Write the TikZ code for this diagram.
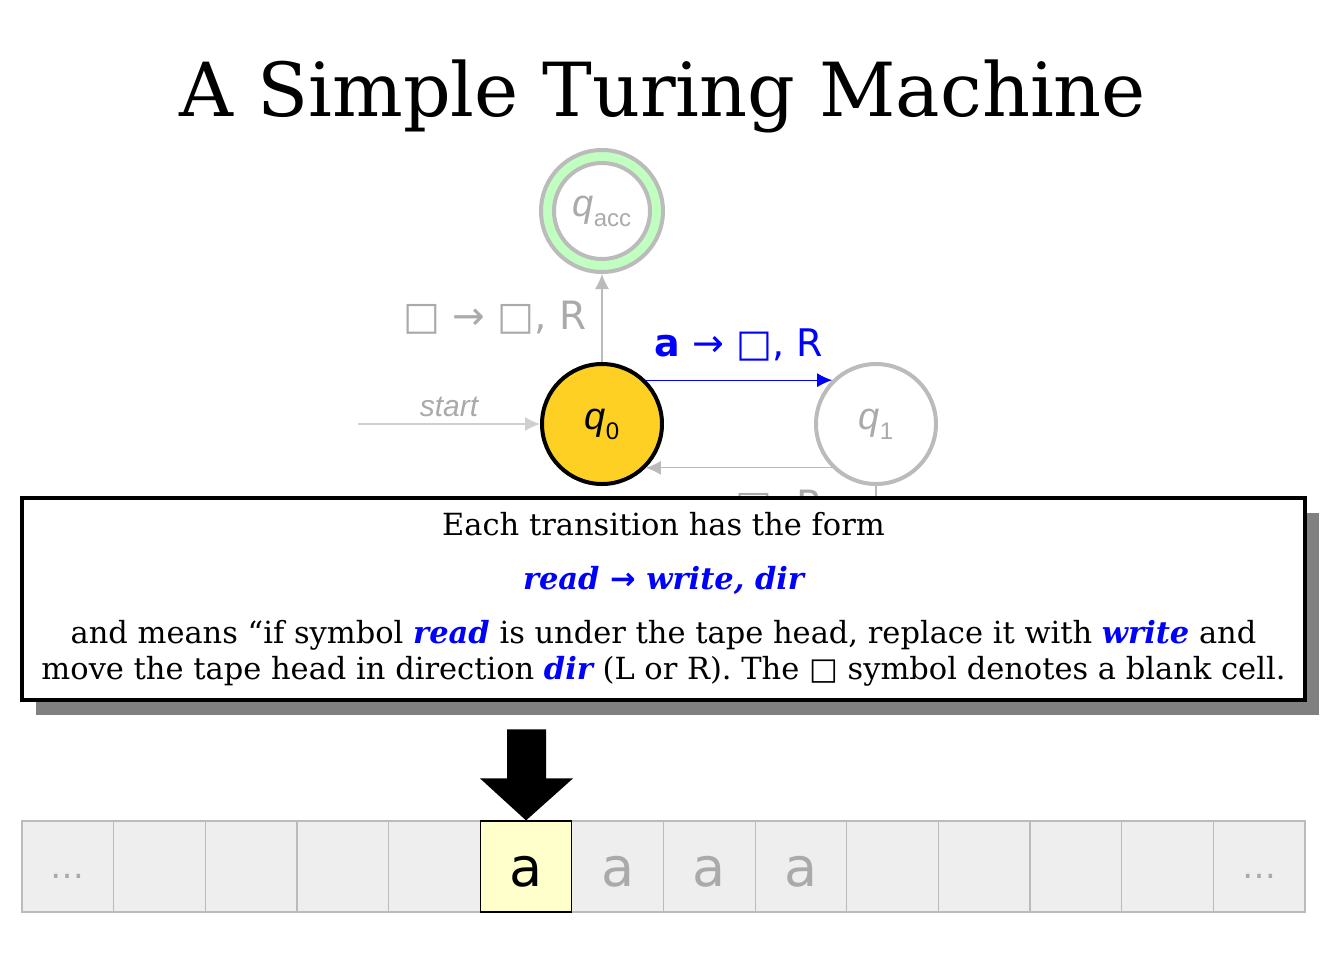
\documentclass[tikz,border=0pt]{standalone}
\usepackage{fontspec}
\setmainfont{DejaVu Serif}
\newfontfamily\labelfont{DejaVu Sans}
\newfontfamily\statefont{Liberation Sans}
\usetikzlibrary{arrows.meta,positioning,shadows}

\definecolor{stategold}{HTML}{FDD023}
\definecolor{accgreen}{HTML}{C0FFC0}
\definecolor{fadegray}{HTML}{BBBBBB}
\definecolor{fadetext}{HTML}{AAAAAA}
\definecolor{cellgray}{HTML}{EEEEEE}
\definecolor{headyellow}{HTML}{FFFFCC}
\newcommand{\blanksym}{{\labelfont □}}
\newcommand{\stname}[2]{\textit{#1}\raisebox{-0.5ex}{\fontsize{12}{12}\selectfont\upshape #2}}
\newcommand{\kw}[1]{\textcolor{blue}{\bfseries\itshape #1}}

\begin{document}
\begin{tikzpicture}[x=0.5pt, y=-0.5pt, >=Latex]
    \tikzset{state/.style={circle, draw=fadegray, line width=2pt, fill=white, inner sep=0pt, minimum size=60pt, text=fadetext, font=\statefont\fontsize{19}{19}\selectfont},
        edge/.style={->, draw=fadegray, line width=0.6pt, arrows={-Latex[length=7.5pt, width=7pt]}},
        elabel/.style={text=fadetext, font=\labelfont\fontsize{19.5}{19.5}\selectfont},
        cell/.style={rectangle, draw=fadegray, line width=0.6pt, fill=cellgray, minimum width=45.82pt, minimum height=45.5pt, inner sep=0pt, font=\labelfont\fontsize{27}{27}\selectfont, text=fadetext}}
    \useasboundingbox (0,0) rectangle (1332,954);

    \node[font=\fontsize{37.3}{37.3}\selectfont] (title) at (663,96) {A Simple Turing Machine};

    % states
    \node[state, fill=stategold, draw=black, text=black] (q0) at (602,424) {\stname{q}{0}};
    \node[state, above=44pt of q0, fill=accgreen, minimum size=61pt] (qacc) {};
    \node[state, minimum size=48pt] (qaccin) at (qacc) {\stname{q}{acc}};
    \node[state, right=75pt of q0] (q1) {\stname{q}{1}};
    \coordinate[left=91pt of q0] (startpt);
    \coordinate[below=10pt of q1] (q1down);

    \draw[edge, draw=fadegray!70] (startpt) -- node[above, text=fadetext, font=\statefont\itshape\fontsize{15}{15}\selectfont]{start} (q0);
    \draw[edge] (q0) -- node[elabel, left=4pt]{\blanksym{} → \blanksym, R} (qacc);
    \draw[edge] (q1.-135) -- node[elabel, inner sep=0pt, below=11pt]{a → \blanksym, R} (q0.-45);
    \draw[draw=fadegray, line width=0.6pt] (q1) -- (q1down);
    \draw[edge, draw=blue, arrows={-Latex[length=7.5pt, width=7pt, blue]}] (q0.45) -- node[above=6pt, text=blue, font=\labelfont\fontsize{19}{19}\selectfont]{\textbf{a} → \blanksym, R} (q1.135);

    % explanation
    \node[rectangle, draw=black, line width=2pt, fill=white, minimum width=641.5pt, minimum height=101pt, align=center,
        drop shadow={shadow xshift=7pt, shadow yshift=-7.5pt, fill=gray, opacity=1},
        font=\fontsize{15.25}{18}\selectfont] (info) at (663.5,599)
        {Each transition has the form\\[9pt]
         \kw{read {\labelfont→} write, dir}\\[9pt]
         and means “if symbol \kw{read} is under the tape head, replace it with \kw{write} and\\
         move the tape head in direction \kw{dir} (L or R). The \blanksym{} symbol denotes a blank cell.};

    % tape
    \foreach \i in {0,...,13}
        \node[cell] (c\i) at ({67.82+91.64*\i}, 866.5) {};
    \node[cell, fill=headyellow, draw=black] (tapehead) at (c5) {};
    \node[font=\labelfont\fontsize{27}{27}\selectfont] at ([yshift=-2.5pt]tapehead) {a};
    \foreach \i in {6,7,8}
        \node at ([yshift=-2.5pt]c\i) {\labelfont\fontsize{27}{27}\selectfont\textcolor{fadetext}{a}};
    \foreach \i in {0,13}
        \node[text=fadetext, font=\labelfont\fontsize{17}{17}\selectfont] at ([yshift=-5pt]c\i) {…};

    \fill[black] (tapehead.north) -- ++(-46,-42) -- ++(27,0) -- ++(0,-49) -- ++(39,0) -- ++(0,49) -- ++(27,0) -- cycle;
\end{tikzpicture}
\end{document}
